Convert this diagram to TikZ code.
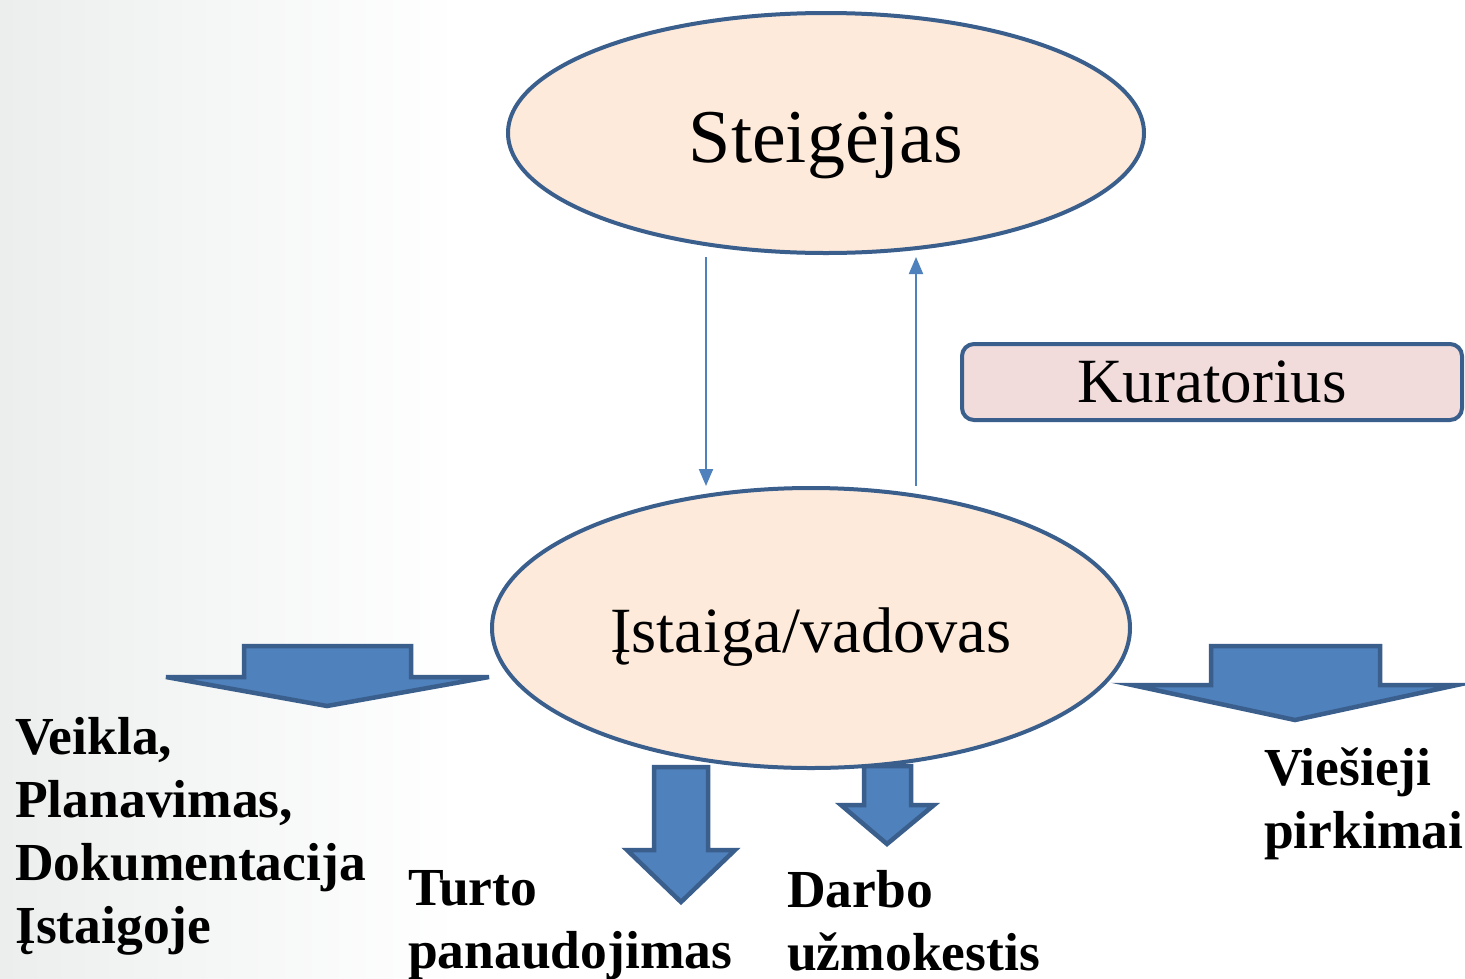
\documentclass[tikz,border=0pt]{standalone}
\usepackage{fontspec}
\setmainfont{Liberation Serif}
\usetikzlibrary{shapes.geometric,arrows.meta}
\definecolor{edgeblue}{RGB}{58,95,140}
\definecolor{fillblue}{RGB}{79,129,189}
\definecolor{peach}{RGB}{253,234,218}
\definecolor{pinkbox}{RGB}{242,220,219}
\definecolor{bggray}{RGB}{236,238,238}
\tikzset{
  oval/.style={ellipse, draw=edgeblue, fill=peach, line width=4pt, inner sep=0pt},
  kbox/.style={rectangle, rounded corners=12pt, draw=edgeblue, fill=pinkbox, line width=4pt, inner sep=0pt},
  blockarrow/.style={draw=edgeblue, fill=fillblue, line width=4.5pt, line join=miter},
  thinarrow/.style={draw=fillblue, line width=2pt, -{Triangle[width=14pt,length=17pt]}},
  lbl/.style={font=\fontsize{53.5}{63}\selectfont\bfseries, align=left, inner sep=0pt, anchor=base west}
}
\begin{document}
\begin{tikzpicture}[x=1pt,y=-1pt]
\useasboundingbox (0,0) rectangle (1465,978);
\fill[white] (0,0) rectangle (1465,978);
\shade[left color=bggray, right color=white] (0,0) rectangle (460,978);
% block arrows
\draw[blockarrow] (244,646) -- (411,646) -- (411,677) -- (489,677) -- (327,706) -- (166,677) -- (244,677) -- cycle;
\draw[blockarrow] (1211,646) -- (1380,646) -- (1380,685) -- (1457,685) -- (1295,720) -- (1132,685) -- (1211,685) -- cycle;
\draw[blockarrow] (654,767) -- (708,767) -- (708,850) -- (735,850) -- (681,902) -- (627,850) -- (654,850) -- cycle;
\draw[blockarrow] (864,766) -- (911,766) -- (911,805) -- (934,805) -- (887,844) -- (841,805) -- (864,805) -- cycle;
% ellipses
\node[oval, minimum width=636pt, minimum height=240pt] (top) at (826,133) {\raisebox{-29pt}[0pt][0pt]{\fontsize{76}{84}\selectfont Steigėjas}};
\node[oval, minimum width=638pt, minimum height=280pt] (bot) at (811,628) {\raisebox{-24pt}[0pt][0pt]{\fontsize{64.5}{70}\selectfont Įstaiga/vadovas}};
\node[kbox, minimum width=500pt, minimum height=76pt] (kur) at (1212,382) {\raisebox{-2pt}{\fontsize{63}{70}\selectfont Kuratorius}};
% thin arrows
\draw[thinarrow] ([xshift=-120pt,yshift=-2pt]top.south) -- ([xshift=-105pt]bot.north);
\draw[thinarrow] ([xshift=105pt]bot.north) -- ([xshift=90pt,yshift=-2pt]top.south);
% labels (anchored at the baseline of the last line)
\node[lbl] (veikla) at (15,943) {Veikla,\\Planavimas,\\Dokumentacija\\Įstaigoje};
\node[lbl] (turto) at (408,968) {Turto\\panaudojimas};
\node[lbl] (darbo) at (787,970) {Darbo\\užmokestis};
\node[lbl] (viesieji) at (1264,848) {Viešieji\\pirkimai};
\end{tikzpicture}
\end{document}
